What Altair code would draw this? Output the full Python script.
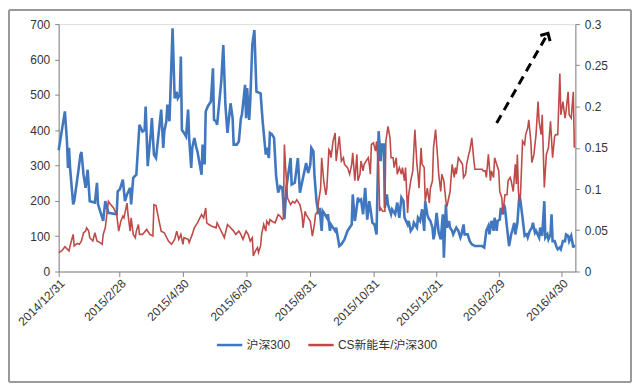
import altair as alt
import pandas as pd

START = "2014-12-31"

# 沪深300 (left axis): day offset from 2014/12/31, value
hs_day = [0, 6, 8, 9, 10, 11, 14, 15, 19, 21, 22, 24, 26, 28, 30, 35, 37, 38, 43, 45,
          48, 56, 57, 59, 62, 64, 66, 69, 70, 72, 75, 78, 81, 83, 84, 86, 89, 90, 92, 94,
          99, 101, 102, 104, 105, 107, 110, 112, 114, 115, 117, 118, 119, 121, 123, 125, 126, 128, 129, 131,
          133, 134, 138, 139, 141, 142, 144, 147, 149, 150, 152, 153, 157, 159, 161, 163, 166, 168, 169, 172,
          174, 176, 177, 180, 181, 182, 184, 185, 187, 189, 191, 195, 197, 200, 201, 203, 204, 206, 208, 210,
          212, 214, 216, 218, 220, 224, 225, 228, 231, 233, 236, 239, 241, 243, 244, 246, 247, 249, 251, 252,
          254, 255, 257, 259, 260, 262, 263, 267, 268, 271, 273, 276, 279, 283, 284, 286, 287, 289, 290, 292,
          294, 296, 298, 300, 303, 305, 307, 309, 311, 312, 314, 315, 317, 318, 321, 322, 325, 327, 329, 331,
          333, 334, 337, 338, 340, 342, 343, 346, 347, 349, 351, 353, 354, 356, 357, 359, 361, 362, 363, 365,
          367, 369, 371, 372, 374, 375, 377, 378, 380, 381, 384, 386, 388, 389, 391, 392, 395, 397, 399, 402,
          405, 409, 411, 413, 415, 416, 418, 419, 420, 421, 422, 423, 424, 426, 427, 429, 430, 431, 433, 435,
          437, 438, 440, 441, 443, 445, 446, 448, 450, 452, 453, 455, 457, 458, 460, 461, 464, 465, 467, 469,
          470, 472, 473, 475, 476, 477, 479, 481, 482, 484, 485, 487, 489, 490, 492, 493, 495, 497, 498]
hs_val = [343, 453, 368, 293, 350, 293, 190, 199, 284, 330, 338, 274, 237, 288, 199, 195, 251, 190, 143, 199,
          166, 162, 227, 232, 260, 199, 218, 237, 190, 265, 274, 415, 396, 400, 467, 298, 392, 434, 331, 321,
          458, 350, 397, 425, 472, 425, 688, 490, 509, 490, 500, 608, 401, 392, 382, 458, 378, 293, 350, 378,
          350, 340, 274, 359, 303, 453, 467, 481, 575, 429, 425, 415, 537, 641, 472, 392, 476, 434, 359, 359,
          368, 434, 444, 528, 434, 519, 429, 481, 641, 683, 509, 504, 425, 331, 350, 321, 392, 388, 378, 270,
          223, 241, 237, 148, 241, 321, 246, 251, 321, 223, 265, 307, 279, 302, 350, 340, 274, 199, 162, 180,
          115, 171, 162, 152, 162, 115, 133, 115, 124, 72, 77, 91, 115, 133, 218, 143, 162, 209, 199, 204,
          162, 237, 147, 199, 138, 133, 105, 397, 312, 359, 359, 180, 218, 190, 162, 176, 162, 195, 152, 209,
          199, 152, 133, 143, 115, 124, 138, 124, 152, 143, 176, 115, 199, 162, 152, 143, 124, 91, 105, 166,
          110, 91, 162, 39, 190, 124, 143, 124, 115, 105, 124, 115, 96, 105, 133, 105, 105, 86, 77, 72,
          72, 72, 68, 115, 129, 105, 143, 133, 115, 152, 138, 115, 143, 147, 180, 162, 190, 180, 124, 72,
          105, 115, 138, 105, 138, 218, 199, 152, 101, 105, 96, 115, 124, 138, 110, 115, 96, 124, 101, 199,
          96, 105, 91, 105, 162, 86, 86, 68, 63, 68, 63, 86, 86, 105, 101, 86, 101, 68, 77]

# CS新能车/沪深300 (right axis)
cs_day = [0, 3, 6, 10, 11, 14, 15, 18, 20, 22, 24, 26, 27, 29, 30, 33, 35, 37, 40, 42,
          43, 45, 48, 49, 53, 56, 58, 60, 62, 63, 66, 67, 69, 70, 72, 74, 75, 77, 78, 81,
          85, 88, 91, 92, 94, 97, 99, 102, 106, 109, 112, 114, 116, 118, 120, 121, 125, 126, 129, 131,
          134, 138, 140, 142, 143, 145, 148, 152, 153, 157, 160, 163, 166, 169, 171, 174, 176, 178, 181, 183,
          185, 187, 188, 190, 192, 193, 195, 196, 198, 200, 201, 203, 204, 206, 209, 212, 214, 216, 217, 218,
          219, 221, 224, 226, 228, 230, 231, 233, 235, 236, 238, 239, 241, 243, 245, 247, 248, 250, 251, 253,
          254, 256, 258, 259, 261, 262, 263, 265, 267, 268, 270, 271, 273, 275, 276, 279, 281, 283, 284, 286,
          288, 289, 291, 292, 294, 295, 297, 299, 300, 301, 302, 304, 306, 307, 309, 310, 311, 313, 315, 316,
          318, 320, 321, 323, 324, 326, 327, 329, 331, 332, 334, 335, 337, 338, 340, 342, 344, 346, 347, 348,
          350, 351, 353, 354, 356, 358, 359, 361, 362, 364, 366, 367, 369, 370, 372, 374, 375, 378, 379, 380,
          382, 383, 384, 386, 388, 390, 391, 393, 394, 396, 397, 399, 401, 402, 409, 410, 412, 413, 415, 417,
          418, 420, 421, 423, 425, 426, 428, 429, 431, 433, 434, 436, 437, 439, 441, 442, 443, 444, 445, 446,
          448, 450, 451, 453, 454, 456, 457, 459, 461, 463, 464, 466, 467, 468, 469, 471, 473, 474, 475, 477,
          479, 480, 482, 484, 485, 487, 489, 490, 492, 493, 495, 497, 498]
cs_val = [0.023, 0.025, 0.030, 0.025, 0.031, 0.045, 0.031, 0.034, 0.033, 0.037, 0.047, 0.049, 0.053, 0.049, 0.041, 0.037, 0.047, 0.037, 0.035, 0.033,
          0.045, 0.053, 0.085, 0.083, 0.077, 0.069, 0.049, 0.061, 0.067, 0.065, 0.083, 0.069, 0.049, 0.065, 0.045, 0.041, 0.049, 0.057, 0.045, 0.045,
          0.051, 0.045, 0.043, 0.081, 0.080, 0.061, 0.049, 0.047, 0.037, 0.033, 0.039, 0.049, 0.039, 0.045, 0.033, 0.041, 0.039, 0.035, 0.045, 0.053,
          0.059, 0.069, 0.065, 0.077, 0.059, 0.057, 0.055, 0.053, 0.059, 0.049, 0.041, 0.057, 0.053, 0.049, 0.045, 0.049, 0.045, 0.039, 0.049, 0.045,
          0.037, 0.041, 0.019, 0.025, 0.029, 0.023, 0.031, 0.045, 0.057, 0.049, 0.061, 0.057, 0.063, 0.061, 0.059, 0.069, 0.067, 0.063, 0.065, 0.154,
          0.130, 0.089, 0.081, 0.085, 0.083, 0.087, 0.085, 0.081, 0.069, 0.053, 0.073, 0.069, 0.065, 0.061, 0.043, 0.057, 0.069, 0.073, 0.085, 0.101,
          0.138, 0.110, 0.093, 0.101, 0.148, 0.146, 0.138, 0.158, 0.168, 0.134, 0.154, 0.164, 0.134, 0.138, 0.130, 0.126, 0.118, 0.130, 0.144, 0.110,
          0.142, 0.110, 0.118, 0.134, 0.122, 0.130, 0.134, 0.138, 0.130, 0.118, 0.154, 0.156, 0.146, 0.158, 0.126, 0.073, 0.077, 0.073, 0.073, 0.158,
          0.176, 0.162, 0.138, 0.138, 0.126, 0.138, 0.118, 0.126, 0.118, 0.126, 0.110, 0.126, 0.071, 0.093, 0.110, 0.122, 0.172, 0.130, 0.118, 0.101,
          0.150, 0.130, 0.126, 0.085, 0.101, 0.083, 0.101, 0.110, 0.150, 0.172, 0.138, 0.118, 0.097, 0.118, 0.110, 0.085, 0.079, 0.097, 0.114, 0.130,
          0.114, 0.126, 0.118, 0.138, 0.134, 0.130, 0.114, 0.118, 0.130, 0.142, 0.146, 0.162, 0.134, 0.124, 0.124, 0.122, 0.122, 0.114, 0.142, 0.110,
          0.122, 0.114, 0.138, 0.130, 0.122, 0.097, 0.089, 0.071, 0.093, 0.093, 0.110, 0.114, 0.110, 0.097, 0.130, 0.106, 0.142, 0.097, 0.085, 0.093,
          0.158, 0.154, 0.166, 0.174, 0.184, 0.158, 0.132, 0.142, 0.166, 0.206, 0.182, 0.166, 0.190, 0.146, 0.102, 0.142, 0.150, 0.166, 0.182, 0.138,
          0.164, 0.166, 0.166, 0.240, 0.190, 0.206, 0.186, 0.194, 0.218, 0.190, 0.186, 0.218, 0.150]

# annotation arrow (date offset, right-axis value)
arrow_day = [423, 471]
arrow_val = [0.180, 0.2855]
head_day = [472.6]
head_val = [0.2887]

S1 = "沪深300"
S2 = "CS新能车/沪深300"
start = pd.Timestamp(START)

df1 = pd.DataFrame({"date": start + pd.to_timedelta(hs_day, unit="D"), "value": hs_val, "series": S1})
df2 = pd.DataFrame({"date": start + pd.to_timedelta(cs_day, unit="D"), "value": cs_val, "series": S2})
dfa = pd.DataFrame({"date": start + pd.to_timedelta(arrow_day, unit="D"), "value": arrow_val})
dfh = pd.DataFrame({"date": start + pd.to_timedelta(head_day, unit="D"), "value": head_val})

FONT = "Liberation Sans, Noto Sans CJK SC"
tick_dates = [alt.DateTime(year=2014, month=12, date=31), alt.DateTime(year=2015, month=2, date=28),
              alt.DateTime(year=2015, month=4, date=30), alt.DateTime(year=2015, month=6, date=30),
              alt.DateTime(year=2015, month=8, date=31), alt.DateTime(year=2015, month=10, date=31),
              alt.DateTime(year=2015, month=12, date=31), alt.DateTime(year=2016, month=2, date=29),
              alt.DateTime(year=2016, month=4, date=30)]

xenc = alt.X("date:T",
             scale=alt.Scale(domain=[alt.DateTime(year=2014, month=12, date=31),
                                     alt.DateTime(year=2016, month=5, date=13)]),
             axis=alt.Axis(values=tick_dates, labelExpr="timeFormat(datum.value, '%Y/%-m/%-d')",
                           labelAngle=-45, labelAlign="right", labelBaseline="top",
                           labelFontSize=12, labelColor="#333333", title=None, grid=False,
                           domainColor="#868686", tickColor="#868686", tickSize=5,
                           labelPadding=1, labelFont=FONT, labelOverlap=False, labelFlush=False))

color = alt.Color("series:N", scale=alt.Scale(domain=[S1, S2], range=["#4077BE", "#BE4B48"]),
                  legend=alt.Legend(title=None, orient="none", legendX=158, legendY=309,
                                    direction="horizontal", symbolType="stroke",
                                    symbolStrokeWidth=2.5, symbolSize=650, labelFontSize=12,
                                    labelColor="#333333", labelFont=FONT, columnPadding=12,
                                    labelOffset=3))

frame = alt.Chart(df1).mark_rect(fill=None, stroke="#9A9A9A", strokeWidth=1).encode(
    x=alt.value(-50), x2=alt.value(576), y=alt.value(-14), y2=alt.value(360))

blue = alt.Chart(df1).mark_line(strokeWidth=2.6).encode(
    x=xenc,
    y=alt.Y("value:Q", scale=alt.Scale(domain=[0, 700]),
            axis=alt.Axis(values=[0, 100, 200, 300, 400, 500, 600, 700], title=None, grid=False,
                          labelFontSize=12, labelColor="#333333", labelFont=FONT,
                          domainColor="#868686", tickColor="#868686", tickSize=4, labelPadding=5)),
    color=color)

yr = alt.Y("value:Q", scale=alt.Scale(domain=[0, 0.3]),
           axis=alt.Axis(orient="right", values=[0, 0.05, 0.1, 0.15, 0.2, 0.25, 0.3], format=".2~f",
                         title=None, grid=False, labelFontSize=12, labelColor="#333333",
                         labelFont=FONT, domainColor="#868686", tickColor="#868686",
                         tickSize=4, labelPadding=5))

red = alt.Chart(df2).mark_line(strokeWidth=1.6).encode(x=xenc, y=yr, color=color)

arrow = alt.Chart(dfa).mark_line(color="black", strokeWidth=3, strokeDash=[9, 6]).encode(
    x="date:T", y="value:Q")
head = alt.Chart(dfh).mark_point(shape="M-0.9,0.9L0,0L0.9,0.9", filled=False, color="black",
                                 strokeWidth=3, size=160, angle=30, opacity=1).encode(
    x="date:T", y="value:Q")

left = alt.layer(frame, blue)
right = alt.layer(red, arrow, head)

chart = alt.layer(left, right).resolve_scale(y="independent").properties(
    width=520, height=249, padding=0
).configure_view(stroke=None).configure(background="white")

chart.save("out.html", embed_options={"renderer": "svg", "actions": False})
